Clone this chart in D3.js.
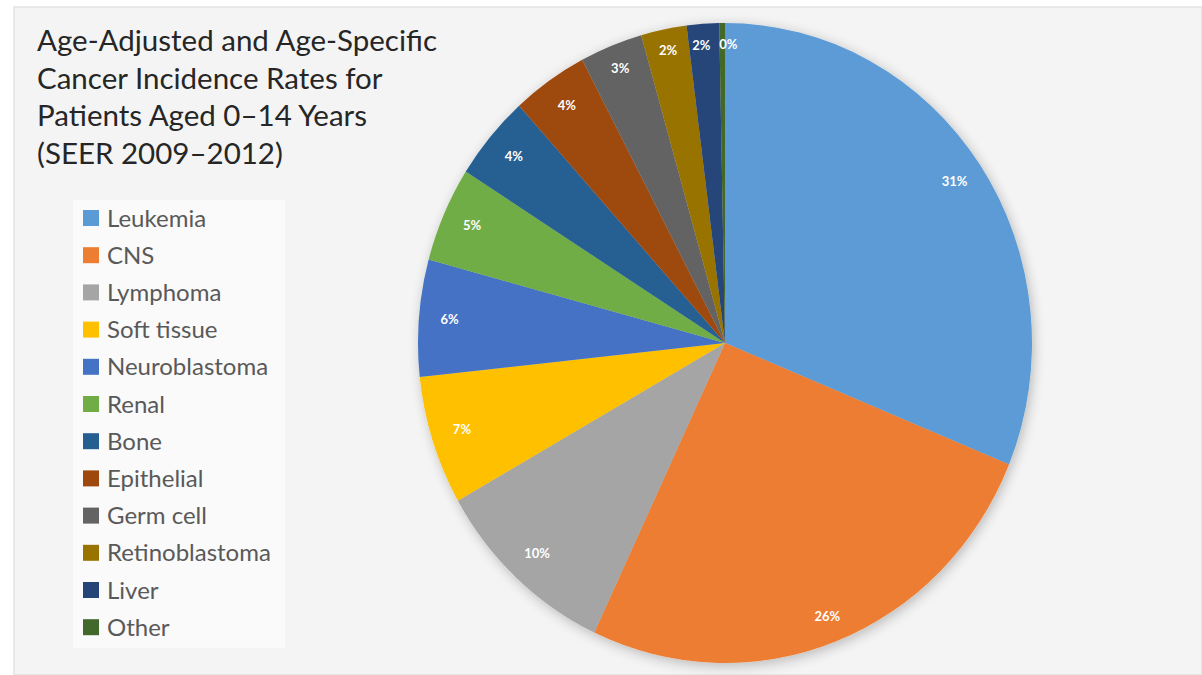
<!DOCTYPE html>
<html>
<head>
<meta charset="utf-8">
<script src="https://cdn.jsdelivr.net/npm/d3@7"></script>
<style>
  body { margin: 0; background: #ffffff; }
  svg { display: block; }
</style>
</head>
<body>
<div id="chart"></div>
<script>
// datos (porcentaje)
const categorias = ["Leukemia", "CNS", "Lymphoma", "Soft tissue", "Neuroblastoma", "Renal",
    "Bone", "Epithelial", "Germ cell", "Retinoblastoma", "Liver", "Other"];
const valores = [31.2, 25.8, 9.8, 6.5, 5.9, 4.8, 4.3, 4.0, 3.3, 2.4, 1.7, 0.3];
const colores = ["#5b9bd5", "#ed7d31", "#a5a5a5", "#ffc000", "#4472c4", "#70ad47",
    "#255e91", "#9e480e", "#636363", "#997300", "#264478", "#43682b"];
const tituloLineas = ["Age-Adjusted and Age-Specific", "Cancer Incidence Rates for",
    "Patients Aged 0\u201314 Years", "(SEER 2009\u20132012)"];

const width = 1202;
const height = 675;

const svg = d3.select("#chart").append("svg")
    .attr("width", width)
    .attr("height", height);

// sombra del pastel
const defs = svg.append("defs");
const filtro = defs.append("filter").attr("id", "sombra")
    .attr("x", "-10%").attr("y", "-10%").attr("width", "120%").attr("height", "120%");
filtro.append("feGaussianBlur").attr("in", "SourceAlpha").attr("stdDeviation", 6);
filtro.append("feOffset").attr("dx", 2).attr("dy", 3).attr("result", "blur");
filtro.append("feComponentTransfer").append("feFuncA").attr("type", "linear").attr("slope", 0.25);
const merge = filtro.append("feMerge");
merge.append("feMergeNode");
merge.append("feMergeNode").attr("in", "SourceGraphic");

// fondo y marco
svg.append("rect")
    .attr("x", 14).attr("y", 7)
    .attr("width", width - 14).attr("height", height - 7)
    .style("fill", "#f4f4f4")
    .style("stroke", "#e2e2e2")
    .style("stroke-width", 1.5);

// titulo
svg.append("g").selectAll("text")
    .data(tituloLineas)
    .enter()
    .append("text")
    .attr("x", 37)
    .attr("y", (d, i) => 51 + i * 37.5)
    .text(d => d)
    .style("font-family", "Lato, 'Open Sans', sans-serif")
    .style("font-size", "29.5px")
    .style("fill", "#262626");

// caja de la leyenda
svg.append("rect")
    .attr("x", 73).attr("y", 200)
    .attr("width", 212).attr("height", 448)
    .style("fill", "#fafafa");

const leyenda = svg.append("g").selectAll("g")
    .data(categorias)
    .enter()
    .append("g")
    .attr("transform", (d, i) => `translate(83, ${218 + i * 37.2})`);

leyenda.append("rect")
    .attr("x", 0).attr("y", -8)
    .attr("width", 16).attr("height", 16)
    .style("fill", (d, i) => colores[i]);

leyenda.append("text")
    .attr("x", 24)
    .attr("y", 8.5)
    .text(d => d)
    .style("font-family", "Lato, 'Open Sans', sans-serif")
    .style("font-size", "24px")
    .style("fill", "#595959");

// pastel (ligeramente eliptico como en la imagen)
const cx = 725, cy = 343;
const rx = 307, ry = 320;

const pie = d3.pie().sort(null).value(d => d);
const arcos = pie(valores);
const arc = d3.arc().innerRadius(0).outerRadius(rx);

svg.append("g")
    .attr("transform", `translate(${cx},${cy}) scale(1, ${ry / rx})`)
    .attr("filter", "url(#sombra)")
    .selectAll("path")
    .data(arcos)
    .enter()
    .append("path")
    .attr("d", arc)
    .style("fill", (d, i) => colores[i])
    .style("stroke", "none");

// etiquetas de porcentaje
const total = d3.sum(valores);
const ajusteX = [0, 0, 0, 0, 0, 0, 0, 0, 0, 0, -3, 6];
const radioEtiqueta = [0.9, 0.92, 0.9, 0.9, 0.9, 0.9, 0.9, 0.9, 0.92, 0.93, 0.93, 0.93];

svg.append("g").selectAll("text")
    .data(arcos)
    .enter()
    .append("text")
    .attr("x", (d, i) => cx + Math.sin((d.startAngle + d.endAngle) / 2) * rx * radioEtiqueta[i] + ajusteX[i])
    .attr("y", (d, i) => cy - Math.cos((d.startAngle + d.endAngle) / 2) * ry * radioEtiqueta[i])
    .attr("text-anchor", "middle")
    .attr("dominant-baseline", "middle")
    .text(d => Math.round(d.data / total * 100) + "%")
    .style("font-family", "Lato, 'Open Sans', sans-serif")
    .style("font-weight", "bold")
    .style("font-size", "13px")
    .style("fill", "#ffffff");
</script>
</body>
</html>
